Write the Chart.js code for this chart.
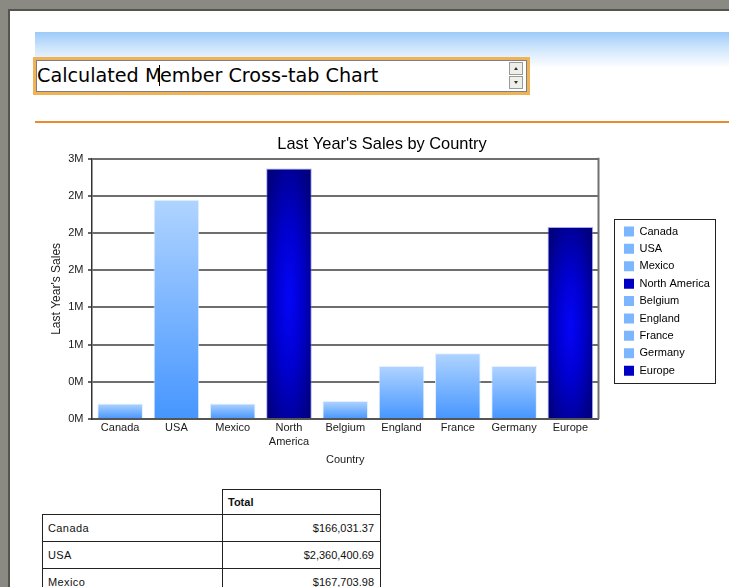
<!DOCTYPE html>
<html>
<head>
<meta charset="utf-8">
<script src="https://cdn.jsdelivr.net/npm/chart.js@4.4.1/dist/chart.umd.min.js"></script>
<style>
html,body{margin:0;padding:0;}
body{width:729px;height:587px;overflow:hidden;position:relative;background:#fff;font-family:"Liberation Sans",Arial,sans-serif;}
.abs{position:absolute;}
#frameTop{left:0;top:0;width:729px;height:9px;background:#8b8a82;}
#frameLeft{left:0;top:0;width:8px;height:587px;background:#8b8a82;}
#innerTop{left:8px;top:9px;width:721px;height:2px;background:#55554f;}
#innerLeft{left:8px;top:9px;width:2px;height:578px;background:#55554f;}
#band{left:35px;top:32px;width:694px;height:36px;background:linear-gradient(to bottom,#9ccaf8 0%,#cfe6fc 45%,#ffffff 100%);}
#box{left:33px;top:57px;width:497px;height:38px;box-sizing:border-box;border:3px solid #efb257;background:#fff;}
#field{left:36px;top:60px;width:491px;height:32px;box-sizing:border-box;border:1px solid #7f7f7f;background:#fff;}
#fieldText{left:37px;top:62px;height:28px;line-height:28px;font-family:"DejaVu Sans",sans-serif;font-size:19.2px;color:#000;white-space:nowrap;}
.caret{display:inline-block;width:1px;height:21px;background:#000;vertical-align:middle;margin:0 -0.5px 0 -2px;position:relative;top:-1px;}
.spin{left:509px;width:14px;height:13px;box-sizing:border-box;border:1px solid #9a9a9a;background:#efefe9;}
#spinUp{top:62px;}
#spinDown{top:76px;}
.tri{position:absolute;left:4px;width:0;height:0;border-left:2.5px solid transparent;border-right:2.5px solid transparent;}
#spinUp .tri{top:4px;border-bottom:3px solid #333;}
#spinDown .tri{top:4px;border-top:3px solid #333;}
#rule{left:35px;top:121px;width:694px;height:2px;background:#ec8a2e;}
#chartWrap{left:40px;top:130px;width:684px;height:337px;}
#tbl{left:42px;top:489px;border-collapse:collapse;font-size:11px;color:#111;}
#tbl td{border:1px solid #222;padding:0;height:26px;}
#tbl tr.head td{height:24px;}
#tbl td.lab{width:174px;padding-left:5px;letter-spacing:0.4px;}
#tbl td.val{width:151px;padding-right:6px;text-align:right;}
#tbl td.blank{border-top:none;border-left:none;}
#tbl td.hd{font-weight:bold;text-align:left;padding-left:5px;padding-right:0;width:152px;}
</style>
</head>
<body>
<div id="frameTop" class="abs"></div>
<div id="frameLeft" class="abs"></div>
<div id="innerTop" class="abs"></div>
<div id="innerLeft" class="abs"></div>
<div id="band" class="abs"></div>
<div id="box" class="abs"></div>
<div id="field" class="abs"></div>
<div id="fieldText" class="abs">Calculated M<span class="caret"></span>ember Cross-tab Chart</div>
<div id="spinUp" class="abs spin"><div class="tri"></div></div>
<div id="spinDown" class="abs spin"><div class="tri"></div></div>
<div id="rule" class="abs"></div>
<div id="chartWrap" class="abs"><canvas id="c" width="684" height="337"></canvas></div>
<table id="tbl" class="abs"></table>
<script>
// ---- data ----
const categories = ['Canada', 'USA', 'Mexico', 'North America', 'Belgium', 'England', 'France', 'Germany', 'Europe'];
const axisLabels = ['Canada', 'USA', 'Mexico', ['North', 'America'], 'Belgium', 'England', 'France', 'Germany', 'Europe'];
const sales = [166031.37, 2360400.69, 167703.98, 2694136.04, 192000, 571000, 708000, 571000, 2066000];
const isRegion = [false, false, false, true, false, false, false, false, true];
const yMax = 2800000;
const yStep = 400000;
const chartTitle = "Last Year's Sales by Country";
const xTitle = 'Country';
const yTitle = "Last Year's Sales";
const tableHeader = 'Total';
const tableRows = ['Canada', 'USA', 'Mexico'];

// ---- table ----
(function () {
  const t = document.getElementById('tbl');
  let html = '<tr class="head"><td class="blank"></td><td class="hd">' + tableHeader + '</td></tr>';
  tableRows.forEach(name => {
    const v = sales[categories.indexOf(name)];
    const s = '$' + v.toLocaleString('en-US', {minimumFractionDigits: 2, maximumFractionDigits: 2});
    html += '<tr><td class="lab">' + name + '</td><td class="val">' + s + '</td></tr>';
  });
  t.innerHTML = html;
})();

// ---- chart ----
const BAR_FRAC = 0.81;
const LEGEND_SPACE = 125.5;
Chart.defaults.font.family = '"Liberation Sans", Arial, sans-serif';
Chart.defaults.font.size = 11;
Chart.defaults.color = '#1a1a1a';

function geom(chart, i, v) {
  const xs = chart.scales.x, ys = chart.scales.y;
  const w = (xs.right - xs.left) / categories.length * BAR_FRAC;
  const cx = xs.getPixelForValue(i);
  const top = ys.getPixelForValue(v);
  const base = ys.getPixelForValue(0);
  return {x0: cx - w / 2, w, cx, top, base, h: base - top};
}
function barFill(c) {
  const chart = c.chart;
  const i = c.dataIndex;
  if (!chart.scales || !chart.scales.x || !chart.scales.y || !chart.chartArea) {
    return isRegion[i] ? '#0000c0' : '#7ab4ff';
  }
  const g = geom(chart, i, sales[i]);
  const ctx = chart.ctx;
  if (!isRegion[i]) {
    const lg = ctx.createLinearGradient(0, g.top, 0, g.base);
    lg.addColorStop(0, '#b0d4ff');
    lg.addColorStop(1, '#4696ff');
    return lg;
  }
  const oc = document.createElement('canvas');
  oc.width = chart.width; oc.height = chart.height;
  const o = oc.getContext('2d');
  o.save();
  o.beginPath();
  o.rect(g.x0, g.top, g.w, g.h);
  o.clip();
  o.translate(g.cx, g.top + g.h * 0.52);
  o.scale(g.w * 0.62, g.h * 0.62);
  const rg = o.createRadialGradient(0, 0, 0, 0, 0, 1);
  rg.addColorStop(0, '#0505f8');
  rg.addColorStop(0.45, '#0000d0');
  rg.addColorStop(1, '#000080');
  o.fillStyle = rg;
  o.fillRect(-2, -2, 4, 4);
  o.restore();
  return ctx.createPattern(oc, 'no-repeat');
}

const framePlugin = {
  id: 'framePlugin',
  beforeLayout(chart) {
    const lg = chart.legend;
    if (lg && !lg._fixedWidth) {
      const origFit = lg.fit;
      lg.fit = function () { origFit.call(this); this.width = LEGEND_SPACE; };
      lg._fixedWidth = true;
    }
  },
  afterLayout(chart) {
    const lg = chart.legend;
    if (!lg) return;
    const ca = chart.chartArea;
    const left = ca.right + 19.1;
    const mid = (ca.top + ca.bottom) / 2 + 12.2;
    lg.left = left; lg.right = left + 108;
    lg.top = mid - 110; lg.bottom = mid + 110;
  },
  afterDatasetsDraw(chart) {
    const ca = chart.chartArea, ctx = chart.ctx;
    ctx.save();
    ctx.strokeStyle = '#707070';
    ctx.lineWidth = 2;
    ctx.beginPath();
    ctx.moveTo(ca.right, ca.top - 1);
    ctx.lineTo(ca.right, ca.bottom);
    ctx.stroke();
    ctx.restore();
  },
  afterDraw(chart) {
    const lg = chart.legend;
    if (!lg || !lg.legendHitBoxes || !lg.legendHitBoxes.length) return;
    const hb = lg.legendHitBoxes;
    const first = hb[0], last = hb[hb.length - 1];
    const left = Math.round(first.left - 10) + 0.5;
    const top = Math.round(first.top + first.height / 2 - 12) + 0.5;
    const bottom = Math.round(last.top + last.height / 2 + 12) + 0.5;
    const ctx = chart.ctx;
    ctx.save();
    ctx.strokeStyle = '#222';
    ctx.lineWidth = 1;
    ctx.strokeRect(left, top, 101, bottom - top);
    ctx.restore();
  }
};

new Chart(document.getElementById('c'), {
  type: 'bar',
  data: {
    labels: axisLabels,
    datasets: [{
      label: yTitle,
      data: sales,
      backgroundColor: barFill,
      borderColor: c => isRegion[c.dataIndex] ? 'rgba(110,110,240,0.6)' : 'rgba(225,238,255,0.9)',
      borderWidth: 1,
      borderSkipped: 'bottom',
      categoryPercentage: 1,
      barPercentage: BAR_FRAC
    }]
  },
  options: {
    responsive: false,
    devicePixelRatio: 1,
    animation: false,
    events: [],
    layout: {padding: {left: 0, right: 0, top: 0, bottom: 0}},
    plugins: {
      title: {
        display: true,
        text: chartTitle,
        color: '#000',
        font: {size: 16.4, weight: 'normal'},
        padding: {top: 4.2, bottom: 4.9}
      },
      tooltip: {enabled: false},
      legend: {
        display: true,
        position: 'right',
        align: 'center',
        fullSize: false,
        labels: {
          boxWidth: 10,
          boxHeight: 10,
          padding: 6.4,
          color: '#111',
          font: {size: 11},
          generateLabels: () => categories.map((name, i) => ({
            text: name,
            fillStyle: isRegion[i] ? '#0000c4' : '#7cb6ff',
            strokeStyle: isRegion[i] ? '#0000c4' : '#7cb6ff',
            lineWidth: 0,
            hidden: false,
            index: i
          }))
        }
      }
    },
    scales: {
      x: {
        type: 'category',
        offset: true,
        grid: {display: false, drawTicks: false},
        border: {display: true, color: '#555', width: 2},
        ticks: {autoSkip: false, maxRotation: 0, padding: 2.4, color: '#1a1a1a', font: {size: 11, lineHeight: 1.27}},
        title: {display: true, text: xTitle, color: '#1a1a1a', font: {size: 11}, padding: {top: 1.7, bottom: 0.4}}
      },
      y: {
        min: 0,
        max: yMax,
        afterFit(scale) { scale.width = 52; },
        grid: {color: '#6e6e6e', lineWidth: 2, drawTicks: true, tickLength: 4, tickColor: '#333', tickWidth: 1.5},
        border: {display: true, color: '#333', width: 1.5},
        ticks: {
          stepSize: yStep,
          padding: 4.5,
          color: '#1a1a1a',
          font: {size: 11},
          callback: v => Math.round(v / 1000000) + 'M'
        },
        title: {display: true, text: yTitle, color: '#1a1a1a', font: {size: 12}, padding: {top: 9.5, bottom: 0}}
      }
    }
  },
  plugins: [framePlugin]
});
</script>
</body>
</html>
